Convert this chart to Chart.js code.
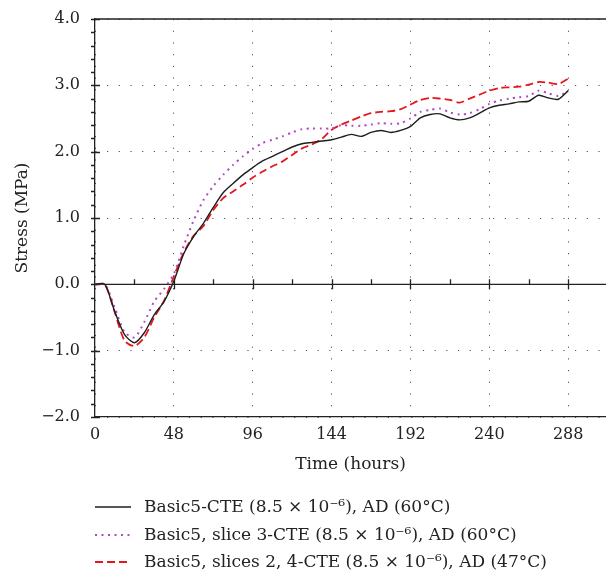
<!DOCTYPE html>
<html>
<head>
<meta charset="utf-8">
<script src="https://cdn.jsdelivr.net/npm/chart.js@4.4.1/dist/chart.umd.min.js"></script>
<style>
  html, body { margin: 0; padding: 0; background: #fff; }
</style>
</head>
<body>
<canvas id="stressChart" width="606" height="575"></canvas>
<script>
// time axis (hours) and stress values (MPa)
const hours = [0, 6, 12, 18, 24, 30, 36, 42, 48, 54, 60, 66, 72, 78, 84, 90, 96, 102, 108, 114,
  120, 126, 132, 138, 144, 150, 156, 162, 168, 174, 180, 186, 192, 198, 204, 210, 216, 222,
  228, 234, 240, 246, 252, 258, 264, 270, 276, 282, 288];
const basic5 = [0, 0, -0.41, -0.76, -0.88, -0.73, -0.46, -0.26, 0.05, 0.46, 0.72, 0.92, 1.16, 1.38,
  1.52, 1.65, 1.76, 1.86, 1.93, 2.00, 2.07, 2.12, 2.14, 2.16, 2.18, 2.22, 2.26, 2.23, 2.29, 2.32,
  2.29, 2.32, 2.38, 2.51, 2.56, 2.57, 2.51, 2.48, 2.51, 2.58, 2.66, 2.70, 2.72, 2.75, 2.76, 2.85,
  2.81, 2.79, 2.92];
const slice3 = [0, 0, -0.35, -0.72, -0.80, -0.57, -0.26, -0.07, 0.16, 0.58, 0.96, 1.27, 1.48, 1.65,
  1.80, 1.93, 2.04, 2.13, 2.18, 2.23, 2.29, 2.34, 2.35, 2.35, 2.35, 2.40, 2.39, 2.39, 2.41, 2.43,
  2.42, 2.43, 2.50, 2.60, 2.63, 2.65, 2.59, 2.56, 2.58, 2.64, 2.72, 2.77, 2.80, 2.82, 2.84, 2.92,
  2.88, 2.84, 2.91];
const slices24 = [0, 0, -0.42, -0.85, -0.93, -0.80, -0.50, -0.25, 0.12, 0.48, 0.73, 0.88, 1.12, 1.30,
  1.40, 1.50, 1.61, 1.70, 1.78, 1.85, 1.95, 2.05, 2.11, 2.19, 2.33, 2.41, 2.47, 2.53, 2.58, 2.60,
  2.61, 2.64, 2.71, 2.78, 2.81, 2.80, 2.78, 2.74, 2.80, 2.86, 2.92, 2.96, 2.97, 2.98, 3.01, 3.05,
  3.04, 3.02, 3.10];
const seriesNames = [
  'Basic5-CTE (8.5 × 10⁻⁶), AD (60°C)',
  'Basic5, slice 3-CTE (8.5 × 10⁻⁶), AD (60°C)',
  'Basic5, slices 2, 4-CTE (8.5 × 10⁻⁶), AD (47°C)'
];
const xTicks = [0, 48, 96, 144, 192, 240, 288];
const yTicks = [-2, -1, 0, 1, 2, 3, 4];

const serif = "'DejaVu Serif', 'Liberation Serif', serif";
const toPoints = arr => hours.map((h, i) => ({ x: h, y: arr[i] }));

// axis frame, zero line, minor ticks and the legend block under the axes
const framePlugin = {
  id: 'frame',
  beforeDatasetsDraw(chart) {
    const { ctx, chartArea: a, scales: { x, y } } = chart;
    ctx.save();
    ctx.strokeStyle = '#222';
    ctx.lineWidth = 1.3;
    ctx.beginPath();
    ctx.moveTo(a.left, a.top); ctx.lineTo(a.right, a.top);
    const y0 = y.getPixelForValue(0);
    ctx.moveTo(a.left, y0); ctx.lineTo(a.right, y0);
    // y axis ticks
    for (let v = -2; v <= 4.001; v += 0.2) {
      const py = Math.round(y.getPixelForValue(v)) + 0.5;
      const major = Math.abs(v - Math.round(v)) < 0.01;
      ctx.moveTo(a.left - 4, py);
      ctx.lineTo(a.left + (major ? 5 : 0), py);
    }
    // ticks on the zero line
    for (let t = 24; t <= 300; t += 24) {
      const px = Math.round(x.getPixelForValue(t)) + 0.5;
      const major = t % 48 === 0;
      ctx.moveTo(px, y0 - 5);
      ctx.lineTo(px, y0 + (major ? 5 : 0));
    }
    ctx.stroke();
    ctx.restore();
  },
  afterDraw(chart) {
    const { ctx, chartArea: a } = chart;
    const rows = [507, 535, 562];
    ctx.save();
    ctx.font = '17px ' + serif;
    ctx.textBaseline = 'middle';
    chart.data.datasets.forEach((ds, i) => {
      ctx.strokeStyle = ds.borderColor;
      ctx.lineWidth = ds.borderWidth;
      ctx.setLineDash(ds.borderDash || []);
      ctx.beginPath();
      ctx.moveTo(a.left, rows[i]);
      ctx.lineTo(a.left + 36, rows[i]);
      ctx.stroke();
      ctx.setLineDash([]);
      ctx.fillStyle = '#222';
      ctx.fillText(ds.label, a.left + 49, rows[i] + 1);
    });
    ctx.restore();
  }
};

const ctx = document.getElementById('stressChart').getContext('2d');
const stressChart = new Chart(ctx, {
  type: 'line',
  data: {
    datasets: [{
      label: seriesNames[0],
      data: toPoints(basic5),
      borderColor: '#1e1e1e',
      borderWidth: 1.4,
      borderDash: []
    }, {
      label: seriesNames[1],
      data: toPoints(slice3),
      borderColor: '#b347c8',
      borderWidth: 2,
      borderDash: [2, 4.5]
    }, {
      label: seriesNames[2],
      data: toPoints(slices24),
      borderColor: '#e5161c',
      borderWidth: 1.8,
      borderDash: [8, 4]
    }]
  },
  options: {
    responsive: false,
    animation: false,
    layout: { padding: { top: 19, right: 0, left: 0, bottom: 88 } },
    elements: { point: { radius: 0 }, line: { tension: 0.25 } },
    plugins: { legend: { display: false }, tooltip: { enabled: false } },
    scales: {
      x: {
        type: 'linear',
        min: 0,
        max: 311,
        afterBuildTicks: s => { s.ticks = xTicks.map(v => ({ value: v })); },
        afterFit: s => { s.height = 70; },
        grid: { color: '#555', lineWidth: 1, drawTicks: false },
        border: { color: '#222', width: 1.3, dash: [1.2, 10.5] },
        ticks: { color: '#222', padding: 8, maxRotation: 0, font: { family: serif, size: 16 } },
        title: { display: true, text: 'Time (hours)', color: '#222', padding: { top: 12, bottom: 12 },
          font: { family: serif, size: 17 } }
      },
      y: {
        min: -2,
        max: 4,
        afterBuildTicks: s => { s.ticks = yTicks.map(v => ({ value: v })); },
        afterFit: s => { s.width = 95; },
        grid: { color: '#555', lineWidth: 1, drawTicks: true, tickLength: 12, tickColor: 'rgba(0,0,0,0)' },
        border: { color: '#222', width: 1.3, dash: [1.2, 10.5] },
        ticks: {
          color: '#222', padding: 3, font: { family: serif, size: 16 },
          callback: v => (v < 0 ? '−' : '') + Math.abs(v).toFixed(1)
        },
        title: { display: true, text: 'Stress (MPa)', color: '#222', padding: { top: 12, bottom: 12 },
          font: { family: serif, size: 17 } }
      }
    }
  },
  plugins: [framePlugin]
});
</script>
</body>
</html>
